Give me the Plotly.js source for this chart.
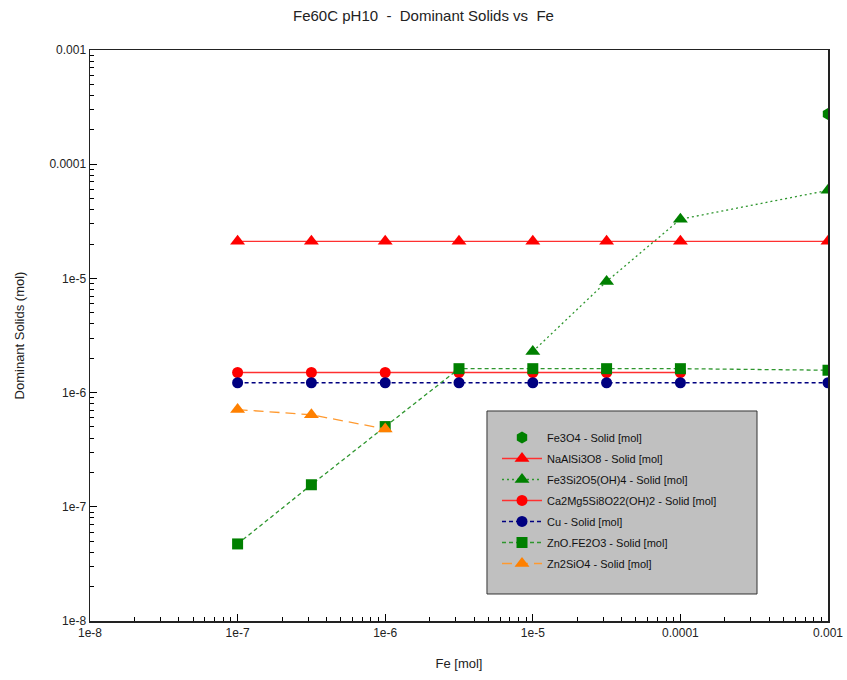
<!DOCTYPE html>
<html><head><meta charset="utf-8">
<script src="https://cdn.plot.ly/plotly-3.0.1.min.js"></script>
<style>body{margin:0;background:#fff}#c{width:847px;height:680px}</style>
</head><body><div id="c"></div>
<script>
const fe = [1e-7, 3.162e-7, 1e-6, 3.162e-6, 1e-5, 3.162e-5, 1e-4, 1e-3];
const fe3o4X = [1e-3];
const fe3o4 = [2.75e-4];
const naalsi = [2.11e-5, 2.11e-5, 2.11e-5, 2.11e-5, 2.11e-5, 2.11e-5, 2.11e-5, 2.11e-5];
const fe3si2X = [1e-5, 3.162e-5, 1e-4, 1e-3];
const fe3si2 = [2.29e-6, 9.4e-6, 3.3e-5, 5.9e-5];
const ca2mgX = [1e-7, 3.162e-7, 1e-6, 3.162e-6, 1e-5, 3.162e-5, 1e-4];
const ca2mg = [1.5e-6, 1.5e-6, 1.5e-6, 1.5e-6, 1.5e-6, 1.5e-6, 1.5e-6];
const cu = [1.22e-6, 1.22e-6, 1.22e-6, 1.22e-6, 1.22e-6, 1.22e-6, 1.22e-6, 1.22e-6];
const znofe = [4.73e-8, 1.56e-7, 5.04e-7, 1.62e-6, 1.62e-6, 1.62e-6, 1.62e-6, 1.57e-6];
const zn2sioX = [1e-7, 3.162e-7, 1e-6];
const zn2sio = [7.1e-7, 6.4e-7, 4.8e-7];
const tickVals = [1e-8, 1e-7, 1e-6, 1e-5, 1e-4, 1e-3];
const tickText = ['1e-8', '1e-7', '1e-6', '1e-5', '0.0001', '0.001'];

const minorVals = [];
for (let e = -8; e < -3; e++) for (let m = 2; m <= 9; m++) minorVals.push(m * Math.pow(10, e));

const traces = [
  {x: fe3o4X, y: fe3o4, name: 'Fe3O4 - Solid [mol]', mode: 'markers', legendgroup: 'a',
   marker: {symbol: 'hexagon', size: 12, color: '#008000'}},
  {x: fe, y: naalsi, name: 'NaAlSi3O8 - Solid [mol]', mode: 'lines+markers', legendgroup: 'b',
   line: {color: '#ff3030', width: 1.3}, marker: {symbol: 'triangle-up', size: 13, color: '#ff0000'}},
  {x: fe3si2X, y: fe3si2, name: 'Fe3Si2O5(OH)4 - Solid [mol]', mode: 'lines+markers', legendgroup: 'c',
   line: {color: '#2e962e', width: 1.3, dash: '2px,3px'}, marker: {symbol: 'triangle-up', size: 13, color: '#008000'}},
  {x: ca2mgX, y: ca2mg, name: 'Ca2Mg5Si8O22(OH)2 - Solid [mol]', mode: 'lines+markers', legendgroup: 'd',
   line: {color: '#ff3030', width: 1.3}, marker: {symbol: 'circle', size: 11, color: '#ff0000'}},
  {x: fe, y: cu, name: 'Cu - Solid [mol]', mode: 'lines+markers', legendgroup: 'e',
   line: {color: '#000080', width: 1.3, dash: '4px,3px'}, marker: {symbol: 'circle', size: 11, color: '#000080'}},
  {x: fe, y: znofe, name: 'ZnO.FE2O3 - Solid [mol]', mode: 'lines+markers', legendgroup: 'f',
   line: {color: '#2e962e', width: 1.3, dash: '4px,3px'}, marker: {symbol: 'square', size: 11, color: '#008000'}},
  {x: zn2sioX, y: zn2sio, name: 'Zn2SiO4 - Solid [mol]', mode: 'lines+markers', legendgroup: 'g',
   line: {color: '#ff9a30', width: 1.3, dash: '10px,6px'}, marker: {symbol: 'triangle-up', size: 13, color: '#ff8000'}},
  {x: [1e-8], y: [1e-8], xaxis: 'x2', yaxis: 'y2', mode: 'markers', showlegend: false,
   marker: {opacity: 0, size: 1}, hoverinfo: 'skip'}
];

const axisCommon = {
  type: 'log', showgrid: false, zeroline: false,
  showline: true, mirror: true, linecolor: '#222', linewidth: 1.5,
  ticks: 'inside', ticklen: 7, tickwidth: 1.3, tickcolor: '#000',
  tickmode: 'array', tickvals: tickVals, ticktext: tickText,
  tickfont: {family: 'Liberation Sans', size: 12, color: '#222'}
};
const minorAxis = {
  type: 'log', range: [-8, -3], showgrid: false, zeroline: false, showline: false,
  ticks: 'inside', ticklen: 4, tickcolor: '#000', tickwidth: 1,
  tickmode: 'array', tickvals: minorVals, showticklabels: false
};

const layout = {
  width: 847, height: 680,
  margin: {l: 90, r: 19, t: 50, b: 59},
  paper_bgcolor: '#fff', plot_bgcolor: '#fff',
  font: {family: 'Liberation Sans', color: '#222'},
  title: {text: 'Fe60C pH10  -  Dominant Solids vs  Fe', x: 0.5, xanchor: 'center', y: 0.985, yanchor: 'top',
          font: {family: 'Liberation Sans', size: 15, color: '#222'}},
  xaxis: Object.assign({}, axisCommon, {range: [-8, -3],
    title: {text: 'Fe [mol]', standoff: 20, font: {family: 'Liberation Sans', size: 13, color: '#222'}}}),
  yaxis: Object.assign({}, axisCommon, {range: [-8, -3],
    title: {text: 'Dominant Solids (mol)', standoff: 22, font: {family: 'Liberation Sans', size: 13, color: '#222'}}}),
  xaxis2: Object.assign({}, minorAxis, {overlaying: 'x', side: 'bottom', anchor: 'y2'}),
  yaxis2: Object.assign({}, minorAxis, {overlaying: 'y', side: 'left', anchor: 'x2'}),
  shapes: [{type: 'rect', xref: 'paper', yref: 'paper', x0: 0.5379, x1: 0.9038, y0: 0.0473, y1: 0.3678,
            fillcolor: '#c0c0c0', line: {color: '#333', width: 1}, layer: 'above'}],
  showlegend: true,
  legend: {x: 0.5515, y: 0.3468, xanchor: 'left', yanchor: 'top',
    bgcolor: 'rgba(0,0,0,0)', borderwidth: 0, traceorder: 'grouped',
    font: {family: 'Liberation Sans', size: 11, color: '#111'},
    itemwidth: 40, tracegroupgap: 2}
};

Plotly.newPlot('c', traces, layout, {displayModeBar: false, staticPlot: true});
</script>
</body></html>
